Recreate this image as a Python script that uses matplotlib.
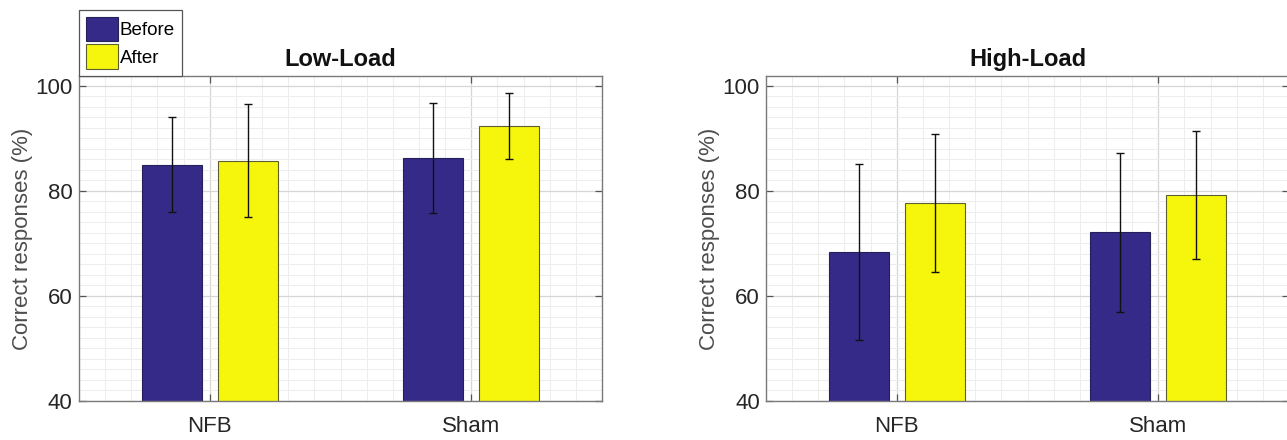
import numpy as np
import matplotlib
matplotlib.use("Agg")
import matplotlib.pyplot as plt
from matplotlib.ticker import MultipleLocator

plt.rcParams['font.family'] = ['Liberation Sans', 'DejaVu Sans']

groups = ["NFB", "Sham"]
series = ["Before", "After"]
titles = ["Low-Load", "High-Load"]
ylabel = "Correct responses (%)"

low_before = [85.0, 86.3]
low_after = [85.8, 92.3]
low_before_err = [9.0, 10.5]
low_after_err = [10.8, 6.3]

high_before = [68.4, 72.1]
high_after = [77.7, 79.2]
high_before_err = [16.7, 15.1]
high_after_err = [13.2, 12.2]

colors = ["#352A87", "#F6F60C"]
edges = ["#25205A", "#5E5E30"]

fig = plt.figure(figsize=(12.87, 4.4), dpi=100)
ax1 = fig.add_axes([79/1287, 1-401/440, 523/1287, 325/440])
ax2 = fig.add_axes([766/1287, 1-401/440, 523/1287, 325/440])

data = [
    (low_before, low_after, low_before_err, low_after_err),
    (high_before, high_after, high_before_err, high_after_err),
]

x = np.arange(1, len(groups) + 1)
off = 0.145
w = 0.23
for ax, title, (b, a, be, ae) in zip([ax1, ax2], titles, data):
    ax.set_axisbelow(True)
    ax.bar(x - off, b, width=w, color=colors[0], edgecolor=edges[0], linewidth=0.8, label=series[0], zorder=2)
    ax.bar(x + off, a, width=w, color=colors[1], edgecolor=edges[1], linewidth=0.8, label=series[1], zorder=2)
    ax.errorbar(x - off, b, yerr=be, fmt='none', ecolor='#111111', elinewidth=1.0, capsize=3, capthick=1.0, zorder=3)
    ax.errorbar(x + off, a, yerr=ae, fmt='none', ecolor='#111111', elinewidth=1.0, capsize=3, capthick=1.0, zorder=3)
    ax.set_xlim(0.5, 2.5)
    ax.set_ylim(40, 101.9)
    ax.set_xticks(x)
    ax.set_xticklabels(groups)
    ax.set_yticks([40, 60, 80, 100])
    ax.yaxis.set_minor_locator(MultipleLocator(2))
    ax.xaxis.set_minor_locator(MultipleLocator(0.1))
    ax.grid(True, which='major', color='#d6d6d6', linewidth=0.9)
    ax.grid(True, which='minor', color='#ededed', linewidth=0.7)
    ax.tick_params(which='major', direction='in', length=5, width=0.9, color='#555555',
                   top=True, right=True, labelsize=16, labelcolor='#262626')
    ax.tick_params(axis='y', pad=4.5)
    ax.tick_params(axis='x', pad=11)
    ax.tick_params(which='minor', length=0)
    for s in ax.spines.values():
        s.set_color('#7a7a7a')
        s.set_linewidth(1.0)
    ax.set_title(title, fontsize=17, fontweight='bold', color='#111111', pad=7)
    ax.set_ylabel(ylabel, fontsize=16, color='#4d4d4d', labelpad=2)

leg = ax1.legend(loc='lower left', bbox_to_anchor=(0, 1), borderaxespad=0,
                 fontsize=13.5, handlelength=1.7, handleheight=1.65, handletextpad=0.1,
                 labelspacing=0.15, borderpad=0.38, fancybox=False, framealpha=1,
                 edgecolor='#555555')
leg.get_frame().set_linewidth(0.9)

fig.savefig("out.png", dpi=100)
